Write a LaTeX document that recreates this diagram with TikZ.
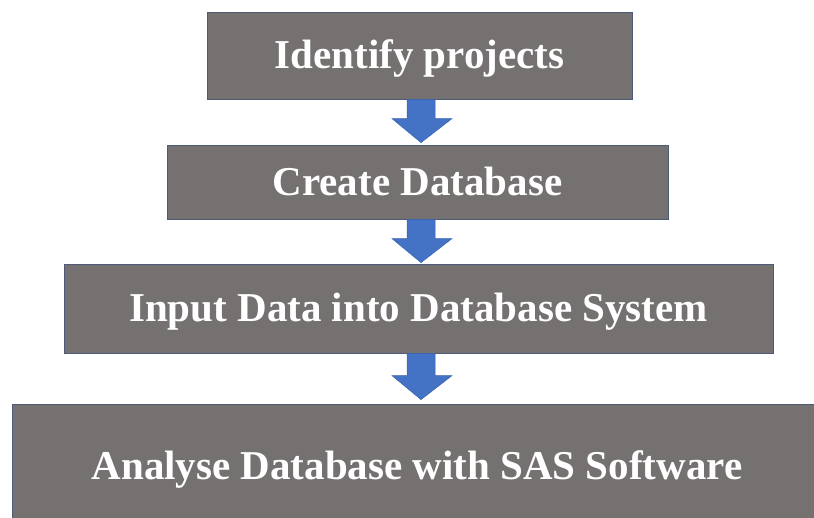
\documentclass[tikz,border=0pt]{standalone}
\usepackage{fontspec}
\setmainfont{Liberation Serif}
\usetikzlibrary{calc}
\definecolor{boxgray}{HTML}{767171}
\definecolor{boxedge}{HTML}{4E5B78}
\definecolor{arrowblue}{HTML}{4472C4}
\definecolor{arrowedge}{HTML}{3A62AE}
\tikzset{
  stepbox/.style={rectangle, fill=boxgray, draw=boxedge, line width=0.8pt,
    inner sep=0pt, text=white, text height=27pt, text depth=0pt,
    font=\bfseries\fontsize{41}{48}\selectfont},
  flowarrow/.style={fill=arrowblue, draw=arrowedge, line width=0.5pt, line join=miter}
}
% block arrow from the bottom of one box down to the top of the next
\newcommand{\blockarrow}[3]{%
  \path let \p1=(#1.south), \p2=(#2.north) in
    [flowarrow] (407pt,\y1) -- (407pt,\y2+#3+24pt) -- (392pt,\y2+#3+24pt)
    -- (421pt,\y2+#3) -- (452pt,\y2+#3+24pt) -- (435pt,\y2+#3+24pt)
    -- (435pt,\y1) -- cycle;}
\begin{document}
\begin{tikzpicture}[x=1pt,y=1pt]
  \useasboundingbox (0,0) rectangle (814,-518);
  \fill[white] (0,0) rectangle (814,-518);

  \node[stepbox, minimum width=425pt, minimum height=87pt] (b1) at (419.5,-55.5) {Identify projects};
  \node[stepbox, minimum width=501pt, minimum height=74pt] (b2) at (417.5,-182) {Create Database};
  \node[stepbox, minimum width=709pt, minimum height=89pt] (b3) at (418.5,-308.5) {Input Data into Database System};
  \node[stepbox, minimum width=810pt, minimum height=124pt] (b4) at (417,-466) {Analyse Database with SAS Software};

  \blockarrow{b1}{b2}{2pt}
  \blockarrow{b2}{b3}{1pt}
  \blockarrow{b3}{b4}{4pt}
\end{tikzpicture}
\end{document}
